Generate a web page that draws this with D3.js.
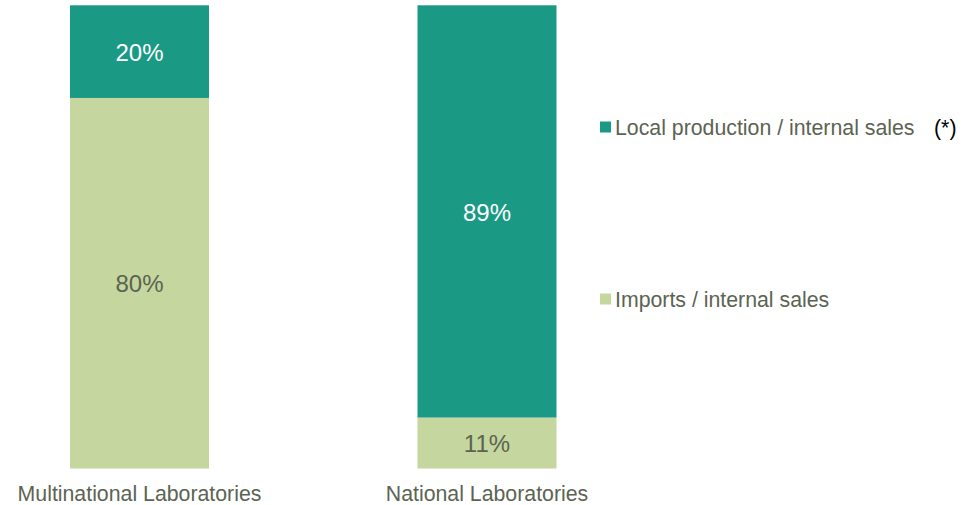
<!DOCTYPE html>
<html>
<head>
<meta charset="utf-8">
<script src="https://cdn.jsdelivr.net/npm/d3@7"></script>
<style>
  html, body { margin: 0; padding: 0; background: #fff; }
  svg { display: block; font-family: "Liberation Sans", Arial, sans-serif; }
</style>
</head>
<body>
<div id="chart"></div>
<script>
// ── Data ──────────────────────────────────────────────────────────────────────
const categories = ['Multinational Laboratories', 'National Laboratories'];
const seriesNames = ['Imports / internal sales', 'Local production / internal sales'];
const imports = [80, 11];
const localProduction = [20, 89];

const colors = ['#c5d69e', '#1a9985'];
const labelColors = ['#5b6452', '#ffffff'];
const textColor = '#5b6452';

// ── Layout ────────────────────────────────────────────────────────────────────
const width = 970, height = 505;

const svg = d3.select('#chart')
  .append('svg')
  .attr('width', width)
  .attr('height', height);

const x = d3.scaleBand()
  .domain(categories)
  .range([0.5, 626])
  .paddingInner(0.6)
  .paddingOuter(0.2);

const y = d3.scaleLinear()
  .domain([0, 100])
  .range([468.5, 5.3]);

const rows = categories.map((c, i) => ({
  category: c,
  imports: imports[i],
  local: localProduction[i],
}));

const stack = d3.stack().keys(['imports', 'local']);
const layers = stack(rows);

// Bars
const layerG = svg.selectAll('g.layer')
  .data(layers)
  .join('g')
  .attr('class', 'layer')
  .attr('fill', (d, i) => colors[i]);

layerG.selectAll('rect')
  .data((d) => d)
  .join('rect')
  .attr('x', (d) => x(d.data.category))
  .attr('y', (d) => y(d[1]))
  .attr('width', x.bandwidth())
  .attr('height', (d) => y(d[0]) - y(d[1]));

// Value labels
layerG.each(function (layer, li) {
  d3.select(this).selectAll('text')
    .data(layer)
    .join('text')
    .attr('x', (d) => x(d.data.category) + x.bandwidth() / 2)
    .attr('y', (d) => (y(d[0]) + y(d[1])) / 2)
    .attr('dy', '0.38em')
    .attr('text-anchor', 'middle')
    .attr('font-size', 24)
    .attr('fill', labelColors[li])
    .text((d) => `${d[1] - d[0]}%`);
});

// Category axis (labels only)
const xAxis = svg.append('g')
  .attr('transform', 'translate(0,468.5)')
  .call(d3.axisBottom(x).tickSize(0).tickPadding(17));
xAxis.select('.domain').remove();
xAxis.selectAll('text')
  .attr('font-size', 21.3)
  .attr('font-family', '"Liberation Sans", Arial, sans-serif')
  .attr('fill', textColor);

// Legend
const legendItems = [
  { name: seriesNames[1], color: colors[1], cy: 127, note: '(*)' },
  { name: seriesNames[0], color: colors[0], cy: 299 },
];

const legend = svg.append('g')
  .selectAll('g')
  .data(legendItems)
  .join('g')
  .attr('transform', (d) => `translate(600,${d.cy})`);

legend.append('rect')
  .attr('x', 0)
  .attr('y', -5.5)
  .attr('width', 11)
  .attr('height', 11)
  .attr('fill', (d) => d.color);

legend.append('text')
  .attr('x', 15)
  .attr('dy', '0.36em')
  .attr('font-size', 21.3)
  .attr('fill', textColor)
  .text((d) => d.name);

legend.filter((d) => d.note)
  .append('text')
  .attr('x', 334)
  .attr('dy', '0.36em')
  .attr('font-size', 21.3)
  .attr('fill', '#000')
  .text((d) => d.note);
</script>
</body>
</html>
